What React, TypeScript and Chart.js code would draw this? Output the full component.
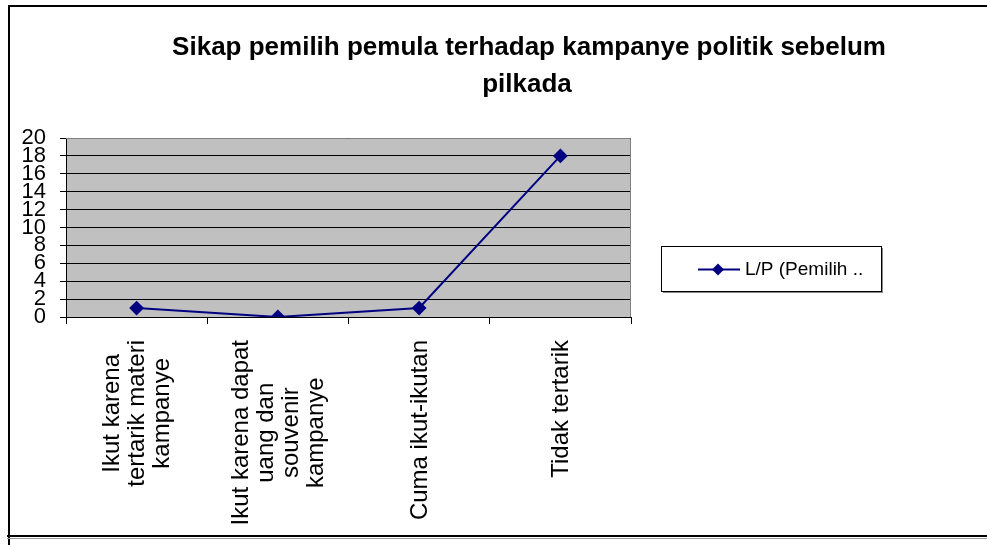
import React, { useEffect, useRef } from "react";
import { Chart, registerables } from "chart.js";

Chart.register(...registerables);

const titleLines = ["Sikap pemilih pemula terhadap kampanye politik sebelum", "pilkada"];
const categories: string[][] = [
  ["Ikut karena", "tertarik materi", "kampanye"],
  ["Ikut karena dapat", "uang dan", "souvenir", "kampanye"],
  ["Cuma ikut-ikutan"],
  ["Tidak tertarik"],
];
const seriesLabel = "L/P (Pemilih ..";
const seriesValues = [1, 0, 1, 18];
const yMin = 0;
const yMax = 20;
const yStep = 2;

const FONT = "'Liberation Sans', Arial, sans-serif";
const NAVY = "#000080";

const decorPlugin = {
  id: "decor",
  beforeDraw(chart: any) {
    const { ctx, chartArea: a, width, height } = chart;
    ctx.save();
    ctx.fillStyle = "#ffffff";
    ctx.fillRect(0, 0, width, height);
    ctx.fillStyle = "#C0C0C0";
    ctx.fillRect(a.left, a.top, a.right - a.left, a.bottom - a.top);
    ctx.restore();
  },
  afterDraw(chart: any) {
    const { ctx, chartArea: a, width, height } = chart;
    ctx.save();
    // outer frame
    ctx.strokeStyle = "#000";
    ctx.lineWidth = 2;
    ctx.beginPath();
    ctx.moveTo(9, height);
    ctx.lineTo(9, 6);
    ctx.lineTo(width, 6);
    ctx.stroke();
    ctx.beginPath();
    ctx.moveTo(7, 536);
    ctx.lineTo(width, 536);
    ctx.stroke();
    ctx.strokeStyle = "#999";
    ctx.lineWidth = 1;
    ctx.beginPath();
    ctx.moveTo(7, 538.5);
    ctx.lineTo(width, 538.5);
    ctx.stroke();

    // plot border (right/top)
    ctx.strokeStyle = "#808080";
    ctx.lineWidth = 1;
    ctx.beginPath();
    ctx.moveTo(a.left, a.top + 0.5);
    ctx.lineTo(a.right - 0.5, a.top + 0.5);
    ctx.lineTo(a.right - 0.5, a.bottom);
    ctx.stroke();

    // title
    ctx.fillStyle = "#000";
    ctx.font = `bold 26px ${FONT}`;
    ctx.textAlign = "center";
    ctx.textBaseline = "alphabetic";
    ctx.fillText(titleLines[0], 529, 55);
    ctx.fillText(titleLines[1], 527, 92);

    // x labels, rotated, lines centered
    const xs = chart.scales.x;
    ctx.font = `24px ${FONT}`;
    const lh = 25;
    categories.forEach((lines, i) => {
      const px = xs.getPixelForValue(i);
      const widths = lines.map((l) => ctx.measureText(l).width);
      const maxW = Math.max(...widths);
      const topY = a.bottom + 23;
      const cy = topY + maxW / 2;
      const n = lines.length;
      ctx.save();
      ctx.translate(px, cy);
      ctx.rotate(-Math.PI / 2);
      ctx.textAlign = "center";
      ctx.textBaseline = "middle";
      lines.forEach((l, j) => {
        const off = (j - (n - 1) / 2) * lh;
        ctx.fillText(l, 0, off + 1);
      });
      ctx.restore();
    });

    // legend
    const lx = 661, ly = 246, lw = 220, lhgt = 45;
    ctx.fillStyle = "#888";
    ctx.fillRect(lx + 2, ly + 2, lw, lhgt);
    ctx.fillStyle = "#fff";
    ctx.fillRect(lx, ly, lw, lhgt);
    ctx.strokeStyle = "#000";
    ctx.lineWidth = 1;
    ctx.strokeRect(lx + 0.5, ly + 0.5, lw, lhgt);
    const my = ly + lhgt / 2 + 1;
    ctx.strokeStyle = NAVY;
    ctx.lineWidth = 2;
    ctx.beginPath();
    ctx.moveTo(698, my);
    ctx.lineTo(740, my);
    ctx.stroke();
    ctx.fillStyle = NAVY;
    ctx.beginPath();
    ctx.moveTo(718, my - 6);
    ctx.lineTo(724, my);
    ctx.lineTo(718, my + 6);
    ctx.lineTo(712, my);
    ctx.closePath();
    ctx.fill();
    ctx.fillStyle = "#000";
    ctx.font = `19px ${FONT}`;
    ctx.textAlign = "left";
    ctx.textBaseline = "middle";
    ctx.fillText(chart.data.datasets[0].label, 745, my);
    ctx.restore();
  },
};

export default function App() {
  const ref = useRef<HTMLCanvasElement>(null);
  useEffect(() => {
    document.body.style.margin = "0";
    const chart = new Chart(ref.current!, {
      type: "line",
      data: {
        labels: categories.map((c) => c.join(" ")),
        datasets: [
          {
            label: seriesLabel,
            data: seriesValues,
            borderColor: NAVY,
            backgroundColor: NAVY,
            borderWidth: 2,
            pointStyle: "rectRot",
            pointRadius: 6,
            pointHoverRadius: 6,
            tension: 0,
          },
        ],
      },
      options: {
        animation: false,
        responsive: false,
        devicePixelRatio: 1,
        layout: { padding: { left: 6, top: 138, right: 356, bottom: 28 } },
        plugins: { legend: { display: false }, title: { display: false }, tooltip: { enabled: false } },
        scales: {
          x: {
            type: "category",
            offset: true,
            afterFit: (s: any) => { s.height = 200; },
            grid: { offset: true, drawOnChartArea: false, drawTicks: true, tickLength: 7, color: "#000", lineWidth: 1 },
            border: { display: true, color: "#000", width: 1 },
            ticks: { display: false },
          },
          y: {
            min: yMin,
            max: yMax,
            afterFit: (s: any) => { s.width = 60; },
            ticks: {
              stepSize: yStep,
              autoSkip: false,
              color: "#000",
              padding: 14,
              font: { family: FONT, size: 22 },
            },
            grid: { color: "#000", lineWidth: 1, drawTicks: true, tickLength: 6 },
            border: { display: true, color: "#000", width: 1 },
          },
        },
      },
      plugins: [decorPlugin],
    });
    return () => chart.destroy();
  }, []);
  return (
    <div style={{ position: "absolute", left: 0, top: 0, width: 987, height: 545 }}>
      <canvas ref={ref} width={987} height={545} />
    </div>
  );
}
